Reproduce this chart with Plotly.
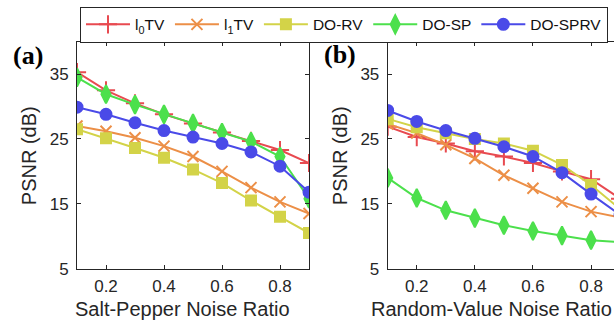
import plotly.graph_objects as go

noise = [0.1, 0.2, 0.3, 0.4, 0.5, 0.6, 0.7, 0.8, 0.9]

# Panel (a): Salt-Pepper noise
sp_l0tv   = [35.3, 32.5, 30.5, 28.8, 27.4, 26.0, 24.7, 23.3, 21.3]
sp_l1tv   = [27.0, 26.2, 25.2, 23.9, 22.3, 20.0, 17.5, 15.3, 13.5]
sp_dorv   = [26.5, 25.1, 23.6, 22.1, 20.3, 18.2, 15.5, 13.0, 10.5]
sp_dosp   = [34.5, 31.9, 30.3, 28.8, 27.4, 26.0, 24.6, 22.3, 15.8]
sp_dosprv = [29.9, 28.8, 27.5, 26.3, 25.3, 24.3, 23.0, 20.8, 16.8]

# Panel (b): Random-Value noise
rv_l0tv   = [26.9, 25.3, 24.3, 23.1, 22.3, 21.3, 20.0, 18.8, 15.8]
rv_l1tv   = [27.3, 25.9, 24.1, 22.0, 19.4, 17.4, 15.3, 13.8, 12.9]
rv_dorv   = [28.1, 26.8, 25.9, 25.0, 24.3, 23.2, 21.0, 17.9, 14.2]
rv_dosp   = [19.0, 15.9, 14.0, 12.8, 11.7, 10.8, 10.1, 9.4, 9.1]
rv_dosprv = [29.4, 27.7, 26.3, 25.1, 23.8, 22.3, 19.8, 16.5, 13.3]

names = ["l<sub>0</sub>TV", "l<sub>1</sub>TV", "DO-RV", "DO-SP", "DO-SPRV"]
colors = ["#E84A50", "#EC8F47", "#D3D348", "#4CE04C", "#4A4AE8"]
symbols = ["cross-thin-open", "x-thin-open", "square", "diamond-tall", "circle"]
sizes = [13, 11, 10, 13, 11]

x_ticks = [0.2, 0.4, 0.6, 0.8]
y_ticks = [5, 15, 25, 35]

W, H = 614, 333
FONT = "Liberation Sans, Arial, sans-serif"
AX = "#262626"

fig = go.Figure()

panel_a = [sp_l0tv, sp_l1tv, sp_dorv, sp_dosp, sp_dosprv]
panel_b = [rv_l0tv, rv_l1tv, rv_dorv, rv_dosp, rv_dosprv]

for i in range(5):
    fig.add_trace(go.Scatter(
        x=noise, y=panel_a[i], name=names[i], mode="lines+markers",
        line=dict(color=colors[i], width=2),
        marker=dict(symbol=symbols[i], size=sizes[i], color=colors[i],
                    line=dict(color=colors[i], width=2)),
        xaxis="x", yaxis="y", showlegend=True))
for i in range(5):
    fig.add_trace(go.Scatter(
        x=noise, y=panel_b[i], name=names[i], mode="lines+markers",
        line=dict(color=colors[i], width=2),
        marker=dict(symbol=symbols[i], size=sizes[i], color=colors[i],
                    line=dict(color=colors[i], width=2)),
        xaxis="x2", yaxis="y2", showlegend=False))

def px(v):
    return v / W

def py(v):
    return 1 - v / H

common_x = dict(range=[0.1, 0.9], tickvals=x_ticks, ticktext=[f"{t:.1f}" for t in x_ticks],
                showgrid=False, zeroline=False, showline=True, linecolor=AX, linewidth=1,
                ticks="inside", ticklen=4, tickcolor=AX, mirror="ticks",
                tickfont=dict(family=FONT, size=17, color="#262626"), ticklabelstandoff=2)
common_y = dict(range=[5, 40], tickvals=y_ticks, showgrid=False, zeroline=False,
                showline=True, linecolor=AX, linewidth=1, ticks="inside", ticklen=4,
                tickcolor=AX, tickfont=dict(family=FONT, size=17, color="#262626"),
                ticklabelstandoff=4)

xa = dict(common_x, domain=[px(77), px(309)], anchor="y")
ya = dict(common_y, domain=[py(277), py(43)], anchor="x", mirror="ticks")
xb = dict(common_x, domain=[px(387.7), 1.0], anchor="y2")
xb["range"] = [0.1, 0.1 + (614 - 387.7) / 290.5]
yb = dict(common_y, domain=[py(277), py(43)], anchor="x2", mirror=False)

fig.update_layout(
    width=W, height=H, margin=dict(l=0, r=0, t=0, b=0),
    paper_bgcolor="white", plot_bgcolor="white",
    xaxis=xa, yaxis=ya, xaxis2=xb, yaxis2=yb,
    legend=dict(orientation="h", x=px(80), y=py(7), xanchor="left", yanchor="top",
                bgcolor="white", bordercolor=AX, borderwidth=1,
                font=dict(family=FONT, size=15.5, color="#111111"),
                itemwidth=44, tracegroupgap=0),
    showlegend=True,
)

ann = [
    dict(text="(a)", x=px(28), y=py(57), font=dict(family="Liberation Serif, Times New Roman, serif", size=26, color="black", weight="bold")),
    dict(text="(b)", x=px(340), y=py(56), font=dict(family="Liberation Serif, Times New Roman, serif", size=26, color="black", weight="bold")),
    dict(text="PSNR (dB)", x=px(29), y=py(161), textangle=-90, font=dict(family=FONT, size=20, color="#262626")),
    dict(text="PSNR (dB)", x=px(340), y=py(161), textangle=-90, font=dict(family=FONT, size=20, color="#262626")),
    dict(text="Salt-Pepper Noise Ratio", x=px(182), y=py(319), font=dict(family=FONT, size=20, color="#262626")),
    dict(text="Random-Value Noise Ratio", x=px(369), y=py(319), xanchor="left", font=dict(family=FONT, size=20, color="#262626")),
]
for a in ann:
    a.setdefault("xanchor", "center")
    a.update(xref="paper", yref="paper", yanchor="middle", showarrow=False)
    fig.add_annotation(**a)

fig.write_html("out.html")
